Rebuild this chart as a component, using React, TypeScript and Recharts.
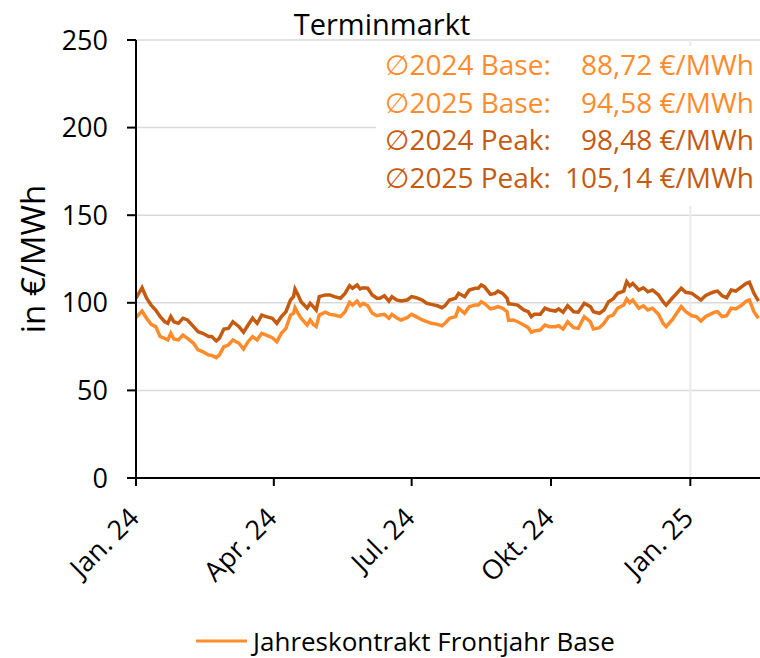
import React from 'react';
import { LineChart, Line, XAxis, YAxis, CartesianGrid, Legend, ReferenceLine } from 'recharts';

// days since 1 Jan 2024 (trading-day samples)
const days = [
  0, 4, 7, 10, 13, 16, 19, 21, 23, 25, 28, 31, 34, 38, 41, 44, 48, 50, 53, 55,
  58, 61, 64, 68, 71, 74, 77, 80, 83, 86, 90, 93, 96, 99, 102, 104, 105, 107, 109, 113,
  115, 117, 119, 121, 125, 128, 131, 135, 138, 141, 143, 146, 148, 150, 153, 156, 159, 161, 164, 167,
  169, 172, 175, 179, 182, 185, 189, 192, 195, 199, 202, 204, 207, 211, 213, 217, 220, 224, 226, 228,
  230, 234, 237, 239, 242, 245, 246, 249, 252, 256, 259, 261, 263, 267, 270, 273, 277, 279, 282, 285,
  289, 292, 296, 300, 302, 306, 309, 312, 315, 318, 322, 324, 326, 328, 332, 335, 338, 341, 345, 348,
  350, 354, 357, 360, 363, 367, 370, 373, 376, 379, 382, 384, 387, 390, 393, 396, 400, 403, 405, 408,
  411,
];

// Jahreskontrakt Frontjahr Peak (€/MWh)
const peakPrices = [
  102.6, 108.6, 102.6, 98.7, 95.9, 92.1, 89.2, 88.3, 92.1, 89.2, 88.3, 91.2, 90.2, 86.4, 83.5, 82.6, 80.7, 80.7, 78.2, 79.7,
  85.0, 85.4, 89.2, 86.4, 83.2, 87.3, 91.2, 88.3, 93.0, 92.1, 91.2, 88.3, 92.1, 94.9, 101.6, 103.5, 107.9, 104.5, 100.6, 96.9,
  99.7, 97.8, 95.9, 103.5, 104.5, 104.5, 103.5, 102.6, 105.4, 109.8, 108.3, 110.2, 107.9, 108.6, 108.3, 104.5, 102.6, 102.6, 104.0, 101.0,
  103.5, 101.6, 101.0, 101.6, 103.5, 102.9, 101.6, 99.7, 99.1, 98.3, 97.2, 98.3, 101.6, 102.6, 105.4, 103.5, 107.3, 108.3, 108.3, 110.2,
  109.2, 104.8, 105.4, 106.7, 105.4, 102.6, 99.4, 99.1, 98.7, 95.9, 94.9, 92.1, 93.4, 93.4, 96.9, 95.9, 95.3, 96.5, 94.6, 98.3,
  94.9, 94.6, 99.7, 97.8, 94.9, 94.0, 95.9, 100.6, 102.2, 105.4, 106.7, 112.1, 109.6, 111.1, 107.3, 108.6, 106.3, 107.3, 104.5, 100.6,
  98.7, 102.6, 105.4, 108.3, 106.0, 105.4, 103.5, 101.6, 104.0, 105.4, 106.3, 106.7, 104.0, 102.9, 107.3, 106.7, 109.2, 111.1, 111.7, 105.4,
  101.0,
];

// Jahreskontrakt Frontjahr Base (€/MWh)
const basePrices = [
  91.5, 95.3, 91.2, 87.7, 86.4, 80.7, 79.7, 78.8, 82.6, 79.3, 78.8, 81.6, 79.7, 76.9, 73.1, 72.1, 70.2, 70.0, 68.7, 70.2,
  74.9, 75.9, 78.8, 76.9, 73.6, 77.8, 80.7, 78.8, 82.6, 81.6, 80.1, 77.8, 82.6, 85.4, 93.0, 94.0, 97.2, 94.0, 91.2, 87.3,
  90.2, 87.7, 86.4, 93.0, 94.6, 93.4, 93.0, 92.1, 94.9, 100.3, 98.7, 101.0, 98.3, 99.7, 98.3, 94.0, 92.6, 93.0, 93.4, 91.2,
  93.4, 91.5, 90.2, 91.5, 93.4, 92.1, 90.2, 89.2, 88.3, 87.7, 86.9, 88.3, 91.2, 92.1, 96.9, 94.0, 97.8, 98.7, 98.7, 100.6,
  99.7, 96.5, 97.2, 97.8, 96.9, 94.9, 90.0, 90.2, 89.2, 87.3, 85.8, 83.2, 83.9, 84.5, 87.3, 86.4, 86.4, 86.9, 85.0, 89.2,
  85.8, 85.4, 92.1, 89.2, 85.0, 85.8, 88.3, 92.1, 93.0, 96.9, 98.7, 102.2, 100.0, 101.6, 96.9, 98.3, 95.9, 96.9, 93.4, 88.3,
  86.4, 90.2, 94.0, 97.8, 94.9, 92.6, 92.1, 89.6, 92.1, 93.4, 94.6, 94.9, 92.1, 92.6, 96.9, 96.5, 98.7, 101.0, 101.6, 94.9,
  91.2,
];

const xTicks = [0, 91, 182, 274, 366];
const xTickLabels = ['Jan. 24', 'Apr. 24', 'Jul. 24', 'Okt. 24', 'Jan. 25'];
const yTicks = [0, 50, 100, 150, 200, 250];

const avgLabels = ['\u22052024 Base:', '\u22052025 Base:', '\u22052024 Peak:', '\u22052025 Peak:'];
const avgValues = [88.72, 94.58, 98.48, 105.14];
const avgIsPeak = [false, false, true, true];

const BASE_COLOR = '#FF8B2B';
const PEAK_COLOR = '#C55A11';
const FONT = '"Open Sans", "DejaVu Sans", sans-serif';

const data = days.map((d, i) => ({ day: d, base: basePrices[i], peak: peakPrices[i] }));

const XTick = (props: any) => {
  const { x, y, payload } = props;
  const idx = xTicks.indexOf(payload.value);
  return (
    <g transform={`translate(${x - 2},${y})`}>
      <text transform="rotate(-45)" textAnchor="end" dy="0.35em" x={0} y={0} fontSize={27} fill="#000" fontFamily={FONT}>
        {idx >= 0 ? xTickLabels[idx] : ''}
      </text>
    </g>
  );
};

const LegendContent = () => (
  <div style={{ height: 40, display: 'flex', alignItems: 'center', paddingLeft: 196, paddingTop: 6, boxSizing: 'border-box', fontFamily: FONT, fontSize: 26, color: '#000' }}>
    <svg width={51} height={4} style={{ display: 'block' }}>
      <line x1={0} y1={2} x2={51} y2={2} stroke={BASE_COLOR} strokeWidth={3} />
    </svg>
    <span style={{ marginLeft: 6, whiteSpace: 'nowrap' }}>Jahreskontrakt Frontjahr Base</span>
  </div>
);

const fmt = (v: number) => v.toFixed(2).replace('.', ',') + ' €/MWh';

export default function App() {
  return (
    <div style={{ position: 'absolute', left: 0, top: 0, width: 760, height: 658, fontFamily: FONT, background: '#fff' }}>
      <LineChart width={760} height={658} data={data} margin={{ top: 40, right: 0, bottom: 0, left: 0 }}>
        <CartesianGrid vertical={false} stroke="#D9D9D9" strokeWidth={1.5} />
        <ReferenceLine x={366} stroke="#EBEBEB" strokeWidth={2} />
        <XAxis
          dataKey="day"
          type="number"
          domain={[0, 412]}
          ticks={xTicks}
          interval={0}
          allowDataOverflow
          height={140}
          tickSize={8}
          tickMargin={27}
          axisLine={{ stroke: '#000', strokeWidth: 2 }}
          tickLine={{ stroke: '#000', strokeWidth: 2 }}
          tick={<XTick />}
        />
        <YAxis
          domain={[0, 250]}
          ticks={yTicks}
          interval={0}
          width={136}
          tickSize={9}
          tickMargin={19}
          axisLine={{ stroke: '#000', strokeWidth: 2 }}
          tickLine={{ stroke: '#000', strokeWidth: 2 }}
          tick={{ fontSize: 27, fill: '#000', fontFamily: FONT }}
          label={{ value: 'in €/MWh', angle: -90, position: 'insideLeft', offset: 33, style: { textAnchor: 'middle', fontSize: 33, fill: '#000', fontFamily: FONT } }}
        />
        <Legend verticalAlign="bottom" height={40} content={<LegendContent />} />
        <Line type="linear" dataKey="base" name="Jahreskontrakt Frontjahr Base" stroke={BASE_COLOR} strokeWidth={3.5} dot={false} isAnimationActive={false} />
        <Line type="linear" dataKey="peak" name="Jahreskontrakt Frontjahr Peak" stroke={PEAK_COLOR} strokeWidth={3.5} dot={false} isAnimationActive={false} />
      </LineChart>
      <svg width={760} height={658} style={{ position: 'absolute', left: 0, top: 0, pointerEvents: 'none' }}>
        <text x={382} y={35} textAnchor="middle" fontSize={29} fill="#000" fontFamily={FONT}>Terminmarkt</text>
        <rect x={376} y={46} width={384} height={160} fill="#fff" />
        {avgLabels.map((lab, i) => (
          <g key={lab} fill={avgIsPeak[i] ? PEAK_COLOR : BASE_COLOR} fontSize={28} fontFamily={FONT}>
            <text x={385} y={75 + i * 37.5}>{lab}</text>
            <text x={754} y={75 + i * 37.5} textAnchor="end">{fmt(avgValues[i])}</text>
          </g>
        ))}
      </svg>
    </div>
  );
}
